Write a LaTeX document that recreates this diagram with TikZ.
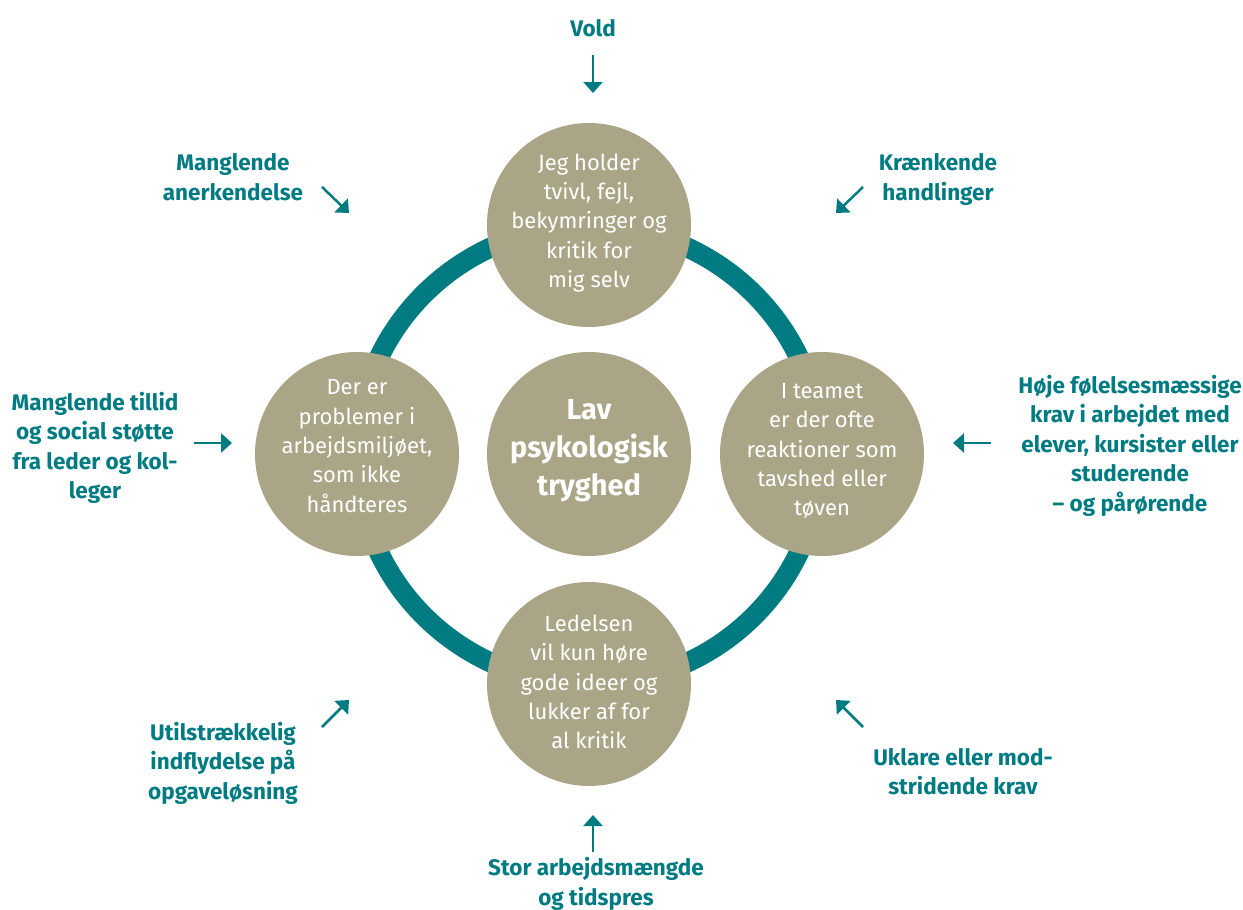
\documentclass[tikz,border=0pt]{standalone}
\usepackage{fontspec}
\setmainfont{Fira Sans}
\usetikzlibrary{arrows.meta}
\definecolor{tealc}{RGB}{0,123,130}
\definecolor{khaki}{RGB}{170,165,134}
\tikzset{
  circ/.style={circle, fill=khaki, minimum size=204pt, inner sep=0pt},
  circtext/.style={text=white, align=center, font=\fontsize{22}{29.3}\selectfont},
  centertext/.style={text=white, align=center, font=\bfseries\fontsize{29}{38}\selectfont},
  lbl/.style={text=tealc, align=center, font=\bfseries\fontsize{22.5}{29.5}\selectfont},
  inarrow/.style={draw=tealc, line width=2.5pt, -{Triangle[length=11pt,width=19pt]}},
  ringline/.style={draw=tealc, line width=20pt},
}
\begin{document}
\begin{tikzpicture}[x=1pt,y=-1pt]
\useasboundingbox (0,0) rectangle (1243,910);
\coordinate (c) at (589,455);
\draw[ringline] (c) ellipse [x radius=232, y radius=229];
% circles
\node[circ] (ctop) at (589,225) {};
\node[circ] (cleft) at (357,454) {};
\node[circ] (cright) at (822,454) {};
\node[circ] (cbot) at (589,684) {};
\node[circ] (ccen) at (589,454) {};
% circle texts
\node[circtext] (ttop) at (589,223) {Jeg holder\\tvivl, fejl,\\bekymringer og\\kritik for\\mig selv};
\node[circtext] (tleft) at (357,446) {Der er\\problemer i\\arbejdsmiljøet,\\som ikke\\håndteres};
\node[circtext] (tright) at (822,451) {I teamet\\er der ofte\\reaktioner som\\tavshed eller\\tøven};
\node[circtext] (tbot) at (589,682) {Ledelsen\\vil kun høre\\gode ideer og\\lukker af for\\al kritik};
\node[centertext] (tcen) at (589,451) {Lav\\psykologisk\\tryghed};
% outer labels
\node[lbl] (vold) at (593,28) {Vold};
\node[lbl] (mang) at (233,177) {Manglende\\anerkendelse};
\node[lbl] (kraenk) at (938,179.5) {Krænkende\\handlinger};
\node[lbl] (tillid) at (95,448) {Manglende tillid\\og social støtte\\fra leder og kol-\\leger};
\node[lbl] (hoeje) at (1130,445.5) {Høje følelsesmæssige\\krav i arbejdet med\\elever, kursister eller\\studerende\\– og pårørende};
\node[lbl] (util) at (223,763) {Utilstrækkelig\\indflydelse på\\opgaveløsning};
\node[lbl] (uklare) at (963,771.5) {Uklare eller mod-\\stridende krav};
\node[lbl] (stor) at (596,884) {Stor arbejdsmængde\\og tidspres};
% arrow end points
\coordinate (a1s) at (593,55);  \coordinate (a1e) at (593,93);
\coordinate (a2s) at (322,187); \coordinate (a2e) at (349,213);
\coordinate (a3s) at (863,187); \coordinate (a3e) at (836,213);
\coordinate (a4s) at (194,443); \coordinate (a4e) at (232,443);
\coordinate (a5s) at (991,443); \coordinate (a5e) at (953,443);
\coordinate (a6s) at (322,727); \coordinate (a6e) at (349,700);
\coordinate (a7s) at (863,727); \coordinate (a7e) at (836,700);
\coordinate (a8s) at (593,852); \coordinate (a8e) at (593,815);
\draw[inarrow] (a1s) -- (a1e);
\draw[inarrow] (a2s) -- (a2e);
\draw[inarrow] (a3s) -- (a3e);
\draw[inarrow] (a4s) -- (a4e);
\draw[inarrow] (a5s) -- (a5e);
\draw[inarrow] (a6s) -- (a6e);
\draw[inarrow] (a7s) -- (a7e);
\draw[inarrow] (a8s) -- (a8e);
\end{tikzpicture}
\end{document}
